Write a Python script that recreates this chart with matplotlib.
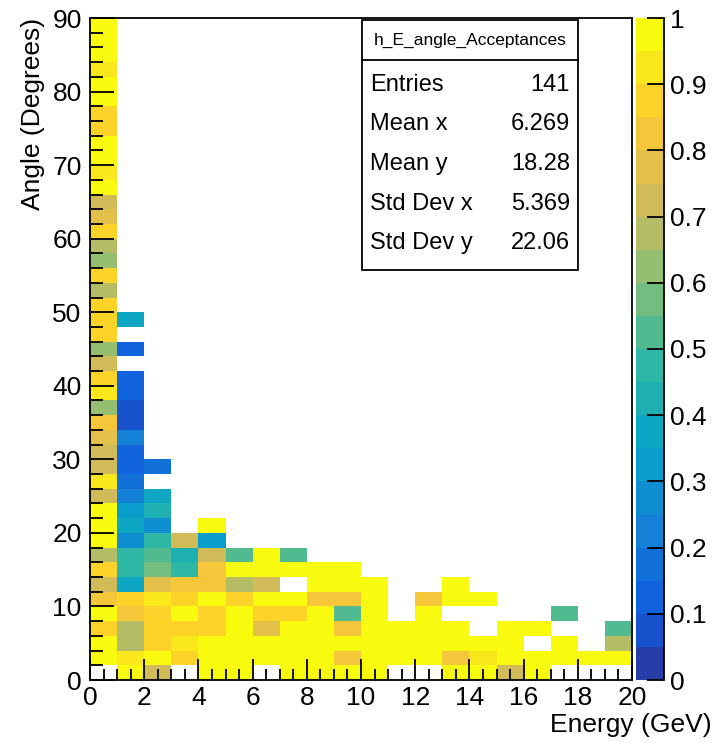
#!/usr/bin/env python3
"""
Energy vs angle acceptance map (ROOT-style colz)
"""

import matplotlib
matplotlib.use('Agg')
import matplotlib.pyplot as plt
import numpy as np
from matplotlib.colors import LinearSegmentedColormap, ListedColormap
from matplotlib.patches import Rectangle
from matplotlib.lines import Line2D

plt.rcParams['font.family'] = ['Liberation Sans', 'DejaVu Sans']

# Binning: 1 GeV in energy, 2 degrees in angle
e_edges = np.arange(0, 21, 1)
angle_edges = np.arange(0, 92, 2)

# Acceptance per energy column, listed from the 0-2 deg bin upwards (None = empty bin)
col_00 = [None, 1.0, 1.0, 0.85, 1.0, 0.82, 0.70, 0.85, 0.68, 1.0,
          1.0, 1.0, 0.73, 0.90, 0.72, 0.72, 0.78, 0.80, 0.62, 0.90,
          0.85, 0.70, 0.62, 0.85, 0.85, 0.88, 0.65, 0.85, 0.62, 0.68,
          0.85, 0.78, 0.72, 0.97, 0.90, 1.0, 0.97, 0.88, 0.88, 0.95,
          0.97, 0.93, 0.95, 1.0, 1.0]
col_01 = [1.0, 0.90, 0.65, 0.65, 0.82, 0.87, 0.35, 0.45, 0.48, 0.28,
          0.38, 0.30, 0.20, 0.15, 0.12, 0.12, 0.20, 0.05, 0.05, 0.10,
          0.10, None, 0.12, None, 0.35]
col_02 = [0.70, 1.0, 0.87, 0.87, 0.88, 0.93, 0.78, 0.58, 0.52, 0.45,
          0.25, 0.42, 0.35, None, 0.15]
col_03 = [None, 0.87, 0.92, 0.87, 1.0, 0.88, 0.80, 0.48, 0.40, 0.72]
col_04 = [1.0, 1.0, 1.0, 0.85, 0.85, 0.97, 0.82, 0.82, 0.72, 0.30, 1.0]
col_05 = [1.0, 1.0, 1.0, 1.0, 1.0, 0.87, 0.68, 1.0, 0.50]
col_06 = [None, 1.0, 1.0, 0.75, 0.85, 1.0, 0.70, 1.0, 1.0]
col_07 = [1.0, 1.0, 1.0, 1.0, 0.87, 1.0, None, 1.0, 0.50]
col_08 = [1.0, 1.0, 1.0, 1.0, 1.0, 0.80, 1.0, 1.0]
col_09 = [1.0, 0.82, 1.0, 0.80, 0.50, 0.80, 1.0, 1.0]
col_10 = [1.0, 1.0, 1.0, 1.0, 1.0, 1.0, 1.0]
col_11 = [None, 1.0, 1.0, 1.0]
col_12 = [None, 1.0, 1.0, 1.0, 1.0, 0.82]
col_13 = [1.0, 0.80, 1.0, 1.0, None, 1.0, 1.0]
col_14 = [1.0, 0.90, 1.0, None, None, 1.0]
col_15 = [0.70, 1.0, 1.0, 1.0]
col_16 = [1.0, 1.0, None, 1.0]
col_17 = [None, 1.0, 1.0, None, 0.50]
col_18 = [None, 1.0]
col_19 = [None, 1.0, 0.68, 0.50]
columns = [col_00, col_01, col_02, col_03, col_04, col_05, col_06, col_07,
           col_08, col_09, col_10, col_11, col_12, col_13, col_14, col_15,
           col_16, col_17, col_18, col_19]

stats_title = "h_E_angle_Acceptances"
stats_labels = ["Entries", "Mean x", "Mean y", "Std Dev x", "Std Dev y"]
stats_values = ["141", "6.269", "18.28", "5.369", "22.06"]

# ROOT kBird palette, 20 contour levels
stops = [0.0, 0.125, 0.25, 0.375, 0.5, 0.625, 0.75, 0.875, 1.0]
red = [0.2082, 0.0592, 0.0780, 0.0232, 0.1802, 0.5301, 0.8186, 0.9956, 0.9764]
green = [0.1664, 0.3599, 0.5041, 0.6419, 0.7178, 0.7492, 0.7328, 0.7862, 0.9832]
blue = [0.5293, 0.8684, 0.8385, 0.7914, 0.6425, 0.4662, 0.3499, 0.1968, 0.0539]
bird = LinearSegmentedColormap.from_list(
    'bird', list(zip(stops, zip(red, green, blue))), N=255)
levels = 20
cmap = ListedColormap([bird(min((i + 0.99) / levels, 1.0)) for i in range(levels)])
cmap.set_bad('white')

# Fill the 2D grid
Z = np.full((len(angle_edges) - 1, len(e_edges) - 1), np.nan)
for i, col in enumerate(columns):
    for j, v in enumerate(col):
        if v is not None:
            Z[j, i] = v
Z = np.ma.masked_invalid(Z)

W, H = 719, 743
def fx(px):
    return px / W
def fy(py):
    return 1 - py / H

fig = plt.figure(figsize=(W / 100, H / 100), dpi=100)
ax = fig.add_axes([fx(90), fy(680), fx(632) - fx(90), fy(18) - fy(680)])
cax = fig.add_axes([fx(636), fy(680), fx(664) - fx(636), fy(18) - fy(680)])

mesh = ax.pcolormesh(e_edges, angle_edges, Z, cmap=cmap, vmin=0, vmax=1,
                     shading='flat')
ax.set_xlim(0, 20)
ax.set_ylim(0, 90)

label_size = 19
ax.set_xticks(np.arange(0, 21, 2))
ax.set_xticks(np.arange(0, 20.01, 0.5), minor=True)
ax.set_yticks(np.arange(0, 91, 10))
ax.set_yticks(np.arange(0, 91, 2), minor=True)
ax.tick_params(which='both', direction='in', top=False, right=False,
               labelsize=label_size, width=1.3)
ax.tick_params(axis='x', which='major', length=15, pad=4)
ax.tick_params(axis='x', which='minor', length=8)
ax.tick_params(axis='y', which='major', length=17, pad=6)
ax.tick_params(axis='y', which='minor', length=9)
for s in ax.spines.values():
    s.set_linewidth(1.3)

fig.text(fx(712), fy(725), "Energy (GeV)", ha='right', va='center',
         fontsize=label_size)
fig.text(fx(33), fy(18), "Angle (Degrees)", ha='center', va='top',
         rotation=90, fontsize=label_size)

# Colour bar
cb = fig.colorbar(mesh, cax=cax)
cb.outline.set_visible(False)
cb.set_ticks(np.arange(0, 1.01, 0.1))
cb.set_ticklabels(["0", "0.1", "0.2", "0.3", "0.4", "0.5", "0.6", "0.7",
                   "0.8", "0.9", "1"])
cax.tick_params(direction='in', length=12, width=1.3, labelsize=label_size,
                pad=4)
cax.minorticks_off()
cax.add_line(Line2D([1, 1], [0, 1], transform=cax.transAxes, color='black',
                    lw=1.3, clip_on=False))

# Stats box
bx0, bx1, by0, by1 = 362, 578, 20, 270
fig.patches.append(Rectangle((fx(bx0), fy(by1)), fx(bx1) - fx(bx0),
                             fy(by0) - fy(by1), transform=fig.transFigure,
                             facecolor='white', edgecolor='black', lw=1.3))
fig.lines.append(Line2D([fx(bx0), fx(bx1)], [fy(60), fy(60)],
                        transform=fig.transFigure, color='black', lw=1.3))
fig.text(fx((bx0 + bx1) / 2), fy(40), stats_title, ha='center', va='center',
         fontsize=12.5)
for k, (lab, val) in enumerate(zip(stats_labels, stats_values)):
    yy = 85 + k * 39.5
    fig.text(fx(370), fy(yy), lab, ha='left', va='center', fontsize=17)
    fig.text(fx(570), fy(yy), val, ha='right', va='center', fontsize=17)

fig.savefig('out.png', dpi=100)
